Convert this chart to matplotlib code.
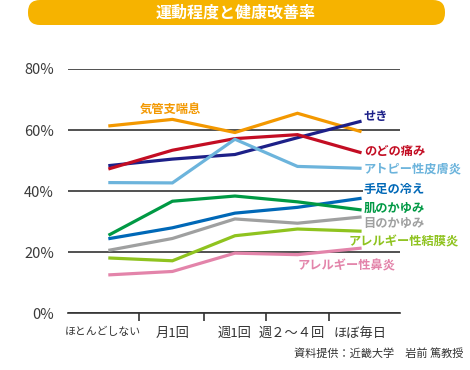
import matplotlib
matplotlib.use('Agg')
import matplotlib.pyplot as plt
from matplotlib.patches import FancyBboxPatch
from matplotlib.transforms import IdentityTransform

plt.rcParams['font.family'] = ['Noto Sans CJK JP', 'DejaVu Sans']

# data
categories = ['ほとんどしない', '月1回', '週1回', '週２～４回', 'ほぼ毎日']
y_ticks = [0, 20, 40, 60, 80]
y_ticklabels = ['0%', '20%', '40%', '60%', '80%']

asthma = [61.4, 63.5, 59.2, 65.5, 59.6]      # 気管支喘息
cough = [48.4, 50.5, 52.0, 57.5, 62.8]       # せき
throat = [47.4, 53.4, 57.2, 58.5, 52.7]      # のどの痛み
atopy = [42.8, 42.7, 57.0, 48.1, 47.5]       # アトピー性皮膚炎
cold = [24.5, 28.0, 32.8, 34.7, 37.6]        # 手足の冷え
skin_itch = [25.8, 36.7, 38.4, 36.5, 33.9]   # 肌のかゆみ
eye_itch = [20.7, 24.5, 30.9, 29.5, 31.5]    # 目のかゆみ
conjunct = [18.1, 17.2, 25.4, 27.6, 26.9]    # アレルギー性結膜炎
rhinitis = [12.6, 13.7, 19.7, 19.2, 21.3]    # アレルギー性鼻炎

series = [
    ('気管支喘息', asthma, '#F39800'),
    ('せき', cough, '#1D2088'),
    ('のどの痛み', throat, '#C30D23'),
    ('アトピー性皮膚炎', atopy, '#6CB4DC'),
    ('手足の冷え', cold, '#0068B7'),
    ('肌のかゆみ', skin_itch, '#009944'),
    ('目のかゆみ', eye_itch, '#9FA0A0'),
    ('アレルギー性結膜炎', conjunct, '#8FC31F'),
    ('アレルギー性鼻炎', rhinitis, '#E384AA'),
]

# label positions (x, y) in data units
label_pos = {
    '気管支喘息': (0.48, 66.7),
    'せき': (4.06, 64.5),
    'のどの痛み': (4.06, 53.0),
    'アトピー性皮膚炎': (4.06, 47.3),
    '手足の冷え': (4.06, 40.4),
    '肌のかゆみ': (4.06, 34.4),
    '目のかゆみ': (4.06, 29.5),
    'アレルギー性結膜炎': (3.82, 23.5),
    'アレルギー性鼻炎': (3.0, 15.5),
}

W, H = 470, 370
fig = plt.figure(figsize=(W / 100, H / 100), dpi=100)
fig.patch.set_facecolor('white')

# axes placed in pixel box: x 68..400, y 69..313
ax = fig.add_axes([68 / W, (H - 313.3) / H, (400 - 68) / W, (313.3 - 69) / H])
x = list(range(len(categories)))

for name, vals, col in series:
    ax.plot(x, vals, color=col, lw=2.3, solid_joinstyle='miter', zorder=3)
    lx, ly = label_pos[name]
    t = ax.text(lx, ly, name, color=col, fontsize=8.8, fontweight='bold',
                ha='left', va='center', zorder=4)
    if name == '手足の冷え':
        # this label sits on the 40% line, hide the line behind it
        t.set_bbox(dict(facecolor='white', edgecolor='none', pad=0.3))

ax.set_xlim(-0.67, 4.64)
ax.set_ylim(0, 80)

for s in ['top', 'right', 'left']:
    ax.spines[s].set_visible(False)
ax.spines['bottom'].set_color('#333333')
ax.spines['bottom'].set_linewidth(1.2)

ax.set_yticks(y_ticks)
ax.set_yticklabels(y_ticklabels)
ax.tick_params(axis='y', length=0, pad=10, labelsize=10.5, labelcolor='#3a3a3a')
ax.yaxis.grid(True, color='#333333', lw=1.2, zorder=1)
ax.set_axisbelow(True)

ax.set_xticks([0.46, 1.5, 2.5, 3.5])
ax.set_xticklabels([])
ax.tick_params(axis='x', which='major', length=6, width=1.2, color='#333333', direction='out')
ax.set_xticks([-0.12, 1.0, 2.0, 2.9, 4.0], minor=True)
ax.set_xticklabels(categories, minor=True)
ax.tick_params(axis='x', which='minor', length=0, pad=10, labelsize=9.5, labelcolor='#333333')
ax.get_xticklabels(minor=True)[0].set_fontsize(7.8)

# title banner
banner = FancyBboxPatch((28, H - 25), 417, 25, boxstyle='round,pad=0,rounding_size=12',
                        facecolor='#F6B300', edgecolor='none', transform=IdentityTransform())
fig.add_artist(banner)
fig.text(236 / W, (H - 13) / H, '運動程度と健康改善率', color='white', fontsize=11.5,
         fontweight='bold', ha='center', va='center')

fig.text(463 / W, (H - 353) / H, '資料提供：近畿大学　岩前 篤教授', color='#333333',
         fontsize=8, ha='right', va='center')

fig.savefig('out.png', dpi=100)
